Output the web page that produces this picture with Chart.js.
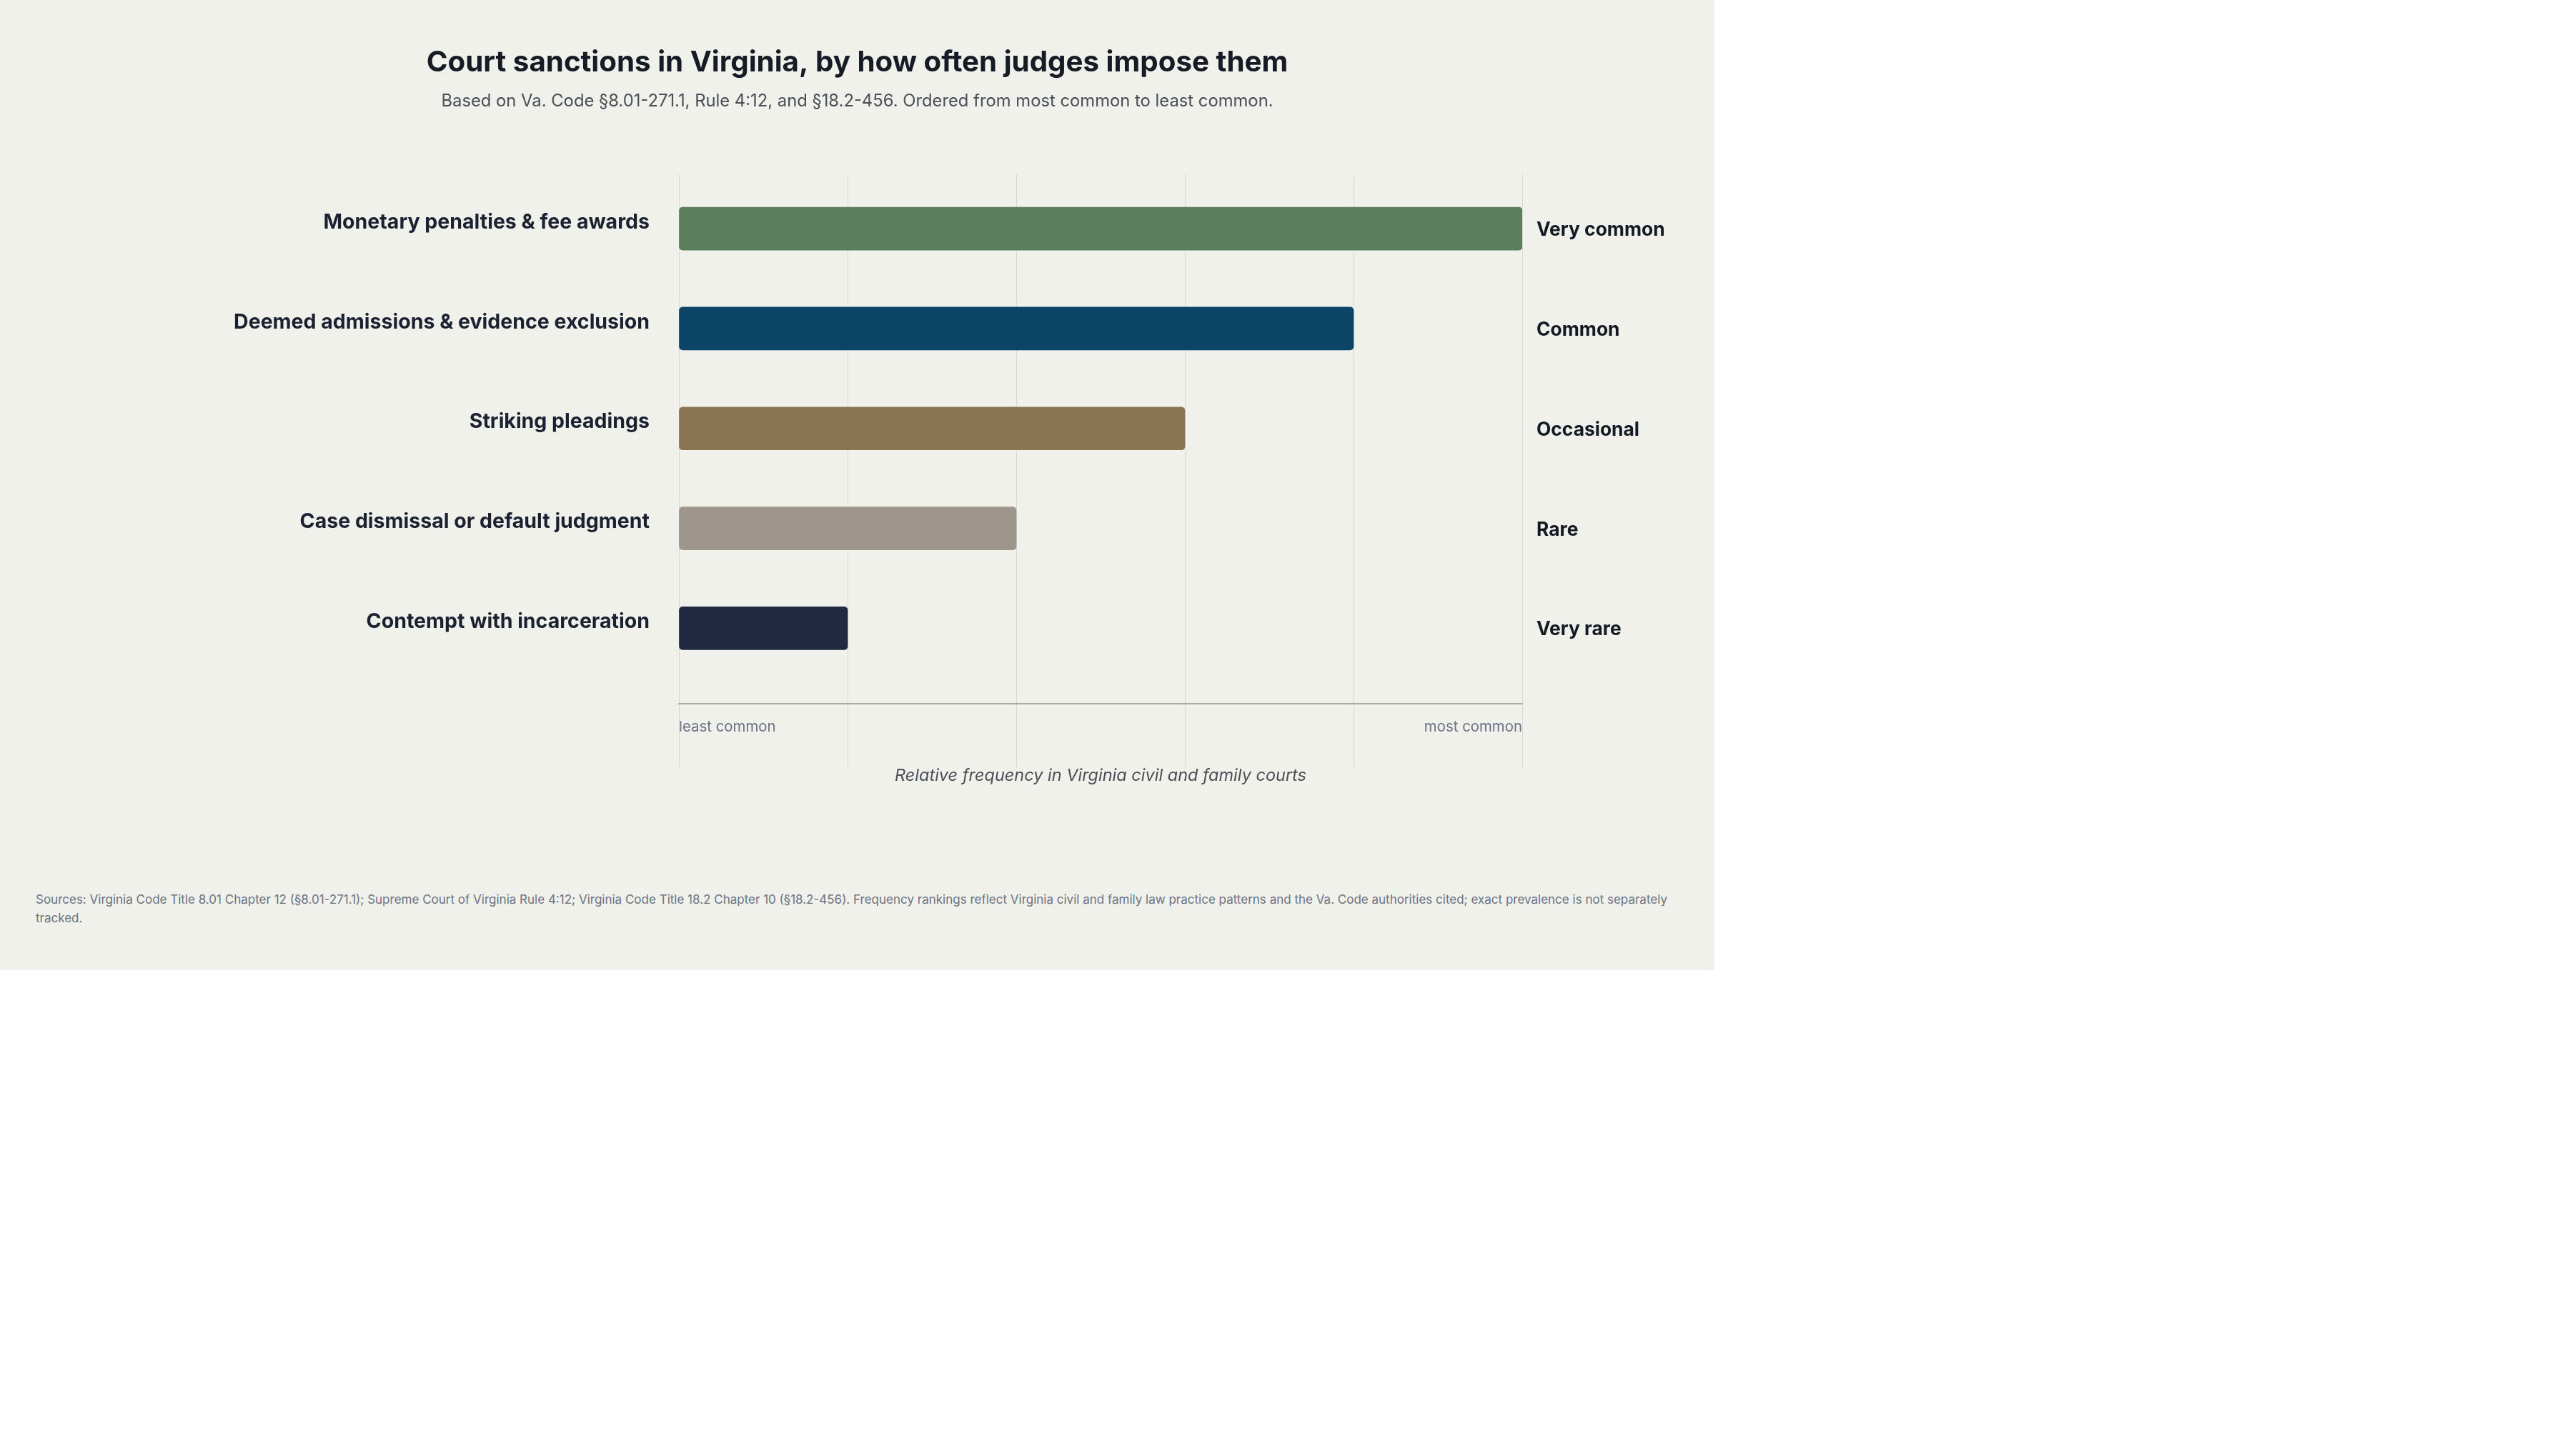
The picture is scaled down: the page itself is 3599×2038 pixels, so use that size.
<!DOCTYPE html>
<html>
<head>
<meta charset="utf-8">
<title>Court sanctions in Virginia</title>
<script src="https://cdn.jsdelivr.net/npm/chart.js@4.4.1/dist/chart.umd.min.js"></script>
<style>
  body { margin: 0; background: #ffffff; }
  #panel {
    position: absolute; left: 0; top: 0;
    width: 2399px; height: 1358px;
    background: #eff1ea;
    font-family: Inter, "Noto Sans", sans-serif;
  }
  #chart { position: absolute; left: 0; top: 0; }
  #sources {
    position: absolute; left: 50px; top: 1246px; width: 2299px;
    font-size: 17px; line-height: 26px; color: #6b7285;
  }
</style>
</head>
<body>
<div id="panel">
  <canvas id="chart" width="2399" height="1100"></canvas>
  <div id="sources">Sources: Virginia Code Title 8.01 Chapter 12 (§8.01-271.1); Supreme Court of Virginia Rule 4:12; Virginia Code Title 18.2 Chapter 10 (§18.2-456). Frequency rankings reflect Virginia civil and family law practice patterns and the Va. Code authorities cited; exact prevalence is not separately tracked.</div>
</div>
<script>
// sanctions, ordered most common -> least common
var sanctions = [
  "Monetary penalties & fee awards",
  "Deemed admissions & evidence exclusion",
  "Striking pleadings",
  "Case dismissal or default judgment",
  "Contempt with incarceration"
];
var frequencyRank = [5, 4, 3, 2, 1];
var frequencyLevel = ["Very common", "Common", "Occasional", "Rare", "Very rare"];
var barColors = ["#5b7f5b", "#0a4568", "#8b7453", "#9e968c", "#20293f"];
var scaleEnds = ["least common", "most common"];

var FONT = "Inter, 'Noto Sans', sans-serif";

function categoryTicks(scale) {
  scale.ticks = sanctions.map(function (s, i) { return { value: i }; });
}

function draw() {
  var points = sanctions.map(function (s, i) {
    return { x: frequencyRank[i], y: i };
  });

  new Chart(document.getElementById("chart"), {
    type: "bar",
    data: {
      datasets: [{
        data: points,
        backgroundColor: barColors,
        borderRadius: 5,
        borderSkipped: false,
        barThickness: 60,
        yAxisID: "y"
      }]
    },
    options: {
      indexAxis: "y",
      responsive: false,
      animation: false,
      layout: { padding: 0 },
      plugins: {
        legend: { display: false },
        tooltip: { enabled: false },
        title: {
          display: true,
          text: "Court sanctions in Virginia, by how often judges impose them",
          color: "#161b26",
          font: { family: FONT, size: 40.3, weight: "700", lineHeight: 1.2 },
          padding: { top: 64, bottom: 0 }
        },
        subtitle: {
          display: true,
          text: "Based on Va. Code §8.01-271.1, Rule 4:12, and §18.2-456. Ordered from most common to least common.",
          color: "#4a4f58",
          font: { family: FONT, size: 23.8, weight: "400", lineHeight: 1.2 },
          padding: { top: 15, bottom: 88 }
        }
      },
      scales: {
        x: {
          type: "linear",
          position: "bottom",
          min: 0,
          max: 5,
          grid: { color: "#d7dad2", lineWidth: 1, drawTicks: true, tickLength: 89 },
          border: { display: true, color: "#a8aba3", width: 2 },
          ticks: {
            stepSize: 1,
            autoSkip: false,
            maxRotation: 0,
            align: "inner",
            padding: -68,
            color: "#6b7285",
            font: { family: FONT, size: 20.4 },
            callback: function (v) {
              if (v === 0) return scaleEnds[0];
              if (v === 5) return scaleEnds[1];
              return "";
            }
          },
          title: {
            display: true,
            text: "Relative frequency in Virginia civil and family courts",
            color: "#4a4f58",
            font: { family: FONT, size: 23.5, style: "italic", lineHeight: 1.2 },
            padding: { top: 0, bottom: 0 }
          },
          afterFit: function (scale) { scale.height = 115; }
        },
        y: {
          type: "linear",
          position: "left",
          reverse: true,
          offset: false,
          min: -0.545,
          max: 4.755,
          grid: { display: false, drawTicks: false },
          border: { display: false },
          afterBuildTicks: categoryTicks,
          ticks: {
            padding: 41,
            labelOffset: -9,
            color: "#1b2130",
            font: { family: FONT, size: 28.5, weight: "700" },
            callback: function (v) { return sanctions[v]; }
          },
          afterFit: function (scale) { scale.width = 950; }
        },
        y2: {
          type: "linear",
          position: "right",
          reverse: true,
          offset: false,
          min: -0.545,
          max: 4.755,
          grid: { display: false, drawTicks: false },
          border: { display: false },
          afterBuildTicks: categoryTicks,
          ticks: {
            padding: 20,
            labelOffset: 2,
            color: "#141a24",
            font: { family: FONT, size: 26.4, weight: "700" },
            callback: function (v) { return frequencyLevel[v]; }
          },
          afterFit: function (scale) { scale.width = 2399 - 2130; }
        }
      }
    }
  });
}

if (document.fonts && document.fonts.load) {
  Promise.all([
    document.fonts.load("700 28px Inter"),
    document.fonts.load("400 20px Inter"),
    document.fonts.load("italic 21px Inter")
  ]).then(draw, draw);
} else {
  draw();
}
</script>
</body>
</html>
